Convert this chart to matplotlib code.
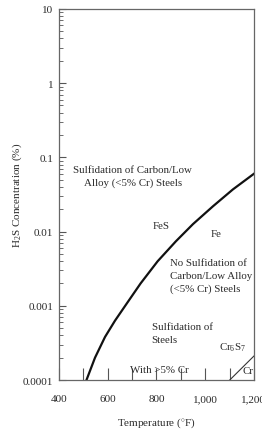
import matplotlib
matplotlib.use("Agg")
import matplotlib.pyplot as plt
from matplotlib.ticker import FixedLocator, LogLocator, NullFormatter

plt.rcParams['font.family'] = ['Liberation Serif', 'DejaVu Serif']
plt.rcParams['mathtext.fontset'] = 'custom'
plt.rcParams['mathtext.rm'] = 'Liberation Serif'
plt.rcParams['mathtext.it'] = 'Liberation Serif'

# Boundary curve (FeS / Fe)
temp_f = [513, 548, 589, 630, 678, 735, 805, 880, 950, 1032, 1114, 1200]
h2s_pct = [1.0e-4, 2.0e-4, 3.8e-4, 6.3e-4, 1.07e-3, 2.0e-3, 3.98e-3, 7.4e-3,
           1.26e-2, 2.19e-2, 3.7e-2, 6.0e-2]

# Cr6S7 / Cr boundary line
cr_temp = [1101, 1200]
cr_h2s = [1.0e-4, 2.1e-4]

xticks = [400, 600, 800, 1000, 1200]
xticklabels = ["400", "600", "800", "1,000", "1,200"]
xminor = [500, 700, 900, 1100]
yticks = [1e-4, 1e-3, 1e-2, 1e-1, 1, 10]
yticklabels = ["0.0001", "0.001", "0.01", "0.1", "1", "10"]

txt = '#2a2a2a'
fig = plt.figure(figsize=(2.62, 4.31), dpi=100)
ax = fig.add_axes([0.225, 0.116, 0.744, 0.861])
ax.set_yscale('log')
ax.set_xlim(400, 1200)
ax.set_ylim(1e-4, 10)

ax.plot(temp_f, h2s_pct, color='#111111', lw=1.6, solid_joinstyle='round')
ax.plot(cr_temp, cr_h2s, color='#333333', lw=0.8)

ax.set_xticks(xticks)
ax.set_xticklabels(xticklabels)
ax.xaxis.set_minor_locator(FixedLocator(xminor))
ax.set_yticks(yticks)
ax.set_yticklabels(yticklabels)
ax.yaxis.set_minor_locator(LogLocator(base=10, subs=range(2, 10)))
ax.yaxis.set_minor_formatter(NullFormatter())

ax.tick_params(axis='x', which='both', direction='in', length=9, width=0.8,
               color='#555555', labelsize=8, pad=10, labelcolor=txt)
ax.tick_params(axis='y', which='major', direction='in', length=5, width=0.8,
               color='#555555', labelsize=8, pad=4, labelcolor=txt)
ax.tick_params(axis='y', which='minor', direction='in', length=3, width=0.6,
               color='#555555')
for s in ax.spines.values():
    s.set_color('#666666')
    s.set_linewidth(0.9)

ax.set_xlabel('Temperature ($^{\\circ}$F)', fontsize=8, color=txt, labelpad=9)
ax.set_ylabel('H$_2$S Concentration (%)', fontsize=8, color=txt, labelpad=-1)

fs = 7.8
ax.text(703, 0.056, 'Sulfidation of Carbon/Low\nAlloy (<5% Cr) Steels', ha='center',
        va='center', fontsize=fs, color=txt, linespacing=1.5)
ax.text(821, 0.0119, 'FeS', ha='center', va='center', fontsize=fs, color=txt)
ax.text(1046, 0.0093, 'Fe', ha='center', va='center', fontsize=fs, color=txt)
ax.text(855, 0.00255, 'No Sulfidation of\nCarbon/Low Alloy\n(<5% Cr) Steels', ha='left',
        va='center', fontsize=fs, color=txt, linespacing=1.5)
ax.text(780, 0.00043, 'Sulfidation of\nSteels', ha='left', va='center', fontsize=fs,
        color=txt, linespacing=1.5)
ax.text(1113, 0.00028, 'Cr$_6$S$_7$', ha='center', va='center', fontsize=fs, color=txt)
ax.text(814, 0.00014, 'With >5% Cr', ha='center', va='center', fontsize=fs, color=txt)
ax.text(1176, 0.000133, 'Cr', ha='center', va='center', fontsize=fs, color=txt)

fig.savefig('out.png', dpi=100)
